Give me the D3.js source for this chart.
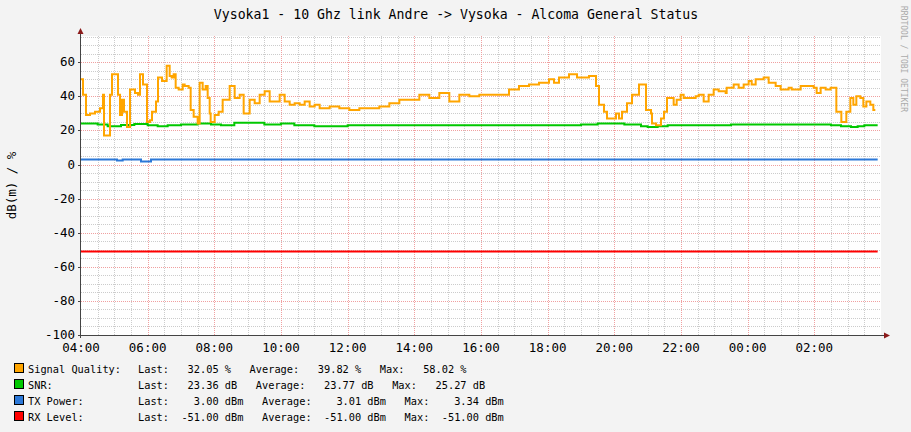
<!DOCTYPE html>
<html><head><meta charset="utf-8">
<script src="https://cdn.jsdelivr.net/npm/d3@7"></script>
<style>body{margin:0;background:#f3f3f3}svg{display:block}</style>
</head><body>
<script>
const title = "Vysoka1 - 10 Ghz link Andre -> Vysoka - Alcoma General Status";
const xTickLabels = ["04:00","06:00","08:00","10:00","12:00","14:00","16:00","18:00","20:00","22:00","00:00","02:00"];
const yTicks = [60,40,20,0,-20,-40,-60,-80,-100];
// hours after 04:00
const sqHours = [0,0.06,0.15,0.27,0.42,0.57,0.66,0.69,0.78,0.87,0.93,1.05,1.11,1.17,1.23,1.29,1.38,1.47,1.62,1.71,1.77,1.86,1.92,1.98,2.07,2.13,2.25,2.31,2.43,2.57,2.66,2.72,2.78,2.84,2.93,3.05,3.11,3.23,3.29,3.38,3.50,3.56,3.65,3.74,3.80,3.86,3.89,4.01,4.13,4.25,4.37,4.46,4.61,4.76,4.88,4.97,5.06,5.21,5.36,5.51,5.66,5.81,5.96,6.11,6.26,6.41,6.56,6.71,6.86,7.01,7.16,7.46,7.75,8.05,8.35,8.65,8.95,9.25,9.55,9.85,10.15,10.45,10.75,11.05,11.35,11.65,11.95,12.25,12.54,12.84,13.14,13.44,13.74,14.04,14.19,14.34,14.49,14.64,14.88,15.09,15.24,15.45,15.54,15.69,15.78,15.93,16.05,16.14,16.23,16.38,16.53,16.74,16.83,16.95,17.10,17.13,17.25,17.40,17.49,17.58,17.72,17.78,17.87,17.99,18.08,18.44,18.53,18.68,18.83,18.98,19.13,19.34,19.37,19.58,19.73,19.88,20.03,20.12,20.24,20.48,20.63,20.84,20.99,21.23,21.32,21.59,21.77,21.98,22.07,22.19,22.34,22.49,22.57,22.66,22.81,22.93,22.96,23.08,23.17,23.26,23.38,23.47,23.56,23.68,23.77,23.83];
const sqValues = [50,41,29,30,31,33,41,17,17,41,53,53,41,29,38,31,22,44,42,41,53,47,47,25,26,31,37,51,49,58,52,51,53,45,44,47,46,45,32,28,24,48,44,46,39,30,25,29,31,38,38,46,39,41,30,30,38,36,41,43,37,37,41,37,35,36,35,37,34,35,33,34,33,32,33,33,34,36,38,38,41,39,42,37,41,40,41,41,41,44,46,47,48,50,48,51,51,53,51,51,52,46,35,31,27,27,30,27,31,36,41,47,47,32,30,24,23,27,31,39,39,35,38,41,39,40,41,37,41,44,43,42,45,47,45,47,49,47,50,51,48,46,44,45,44,46,46,45,42,45,44,45,45,31,25,25,31,39,35,40,39,34,37,35,32,32];
const snrHours = [0,0.5,0.8,1.2,1.6,2.0,2.3,2.6,3.0,3.5,3.9,4.2,4.6,5.0,5.5,6.0,6.4,7.0,8.0,10.0,12.0,13.0,14.0,15.0,15.5,15.8,16.3,16.8,17.0,17.3,17.6,18.5,19.5,21.0,22.5,22.8,23.1,23.3,23.5,23.9];
const snrValues = [24,23.5,22.5,23.2,23.8,23,22.5,23,23.5,24,23.5,23,24.5,24.5,23.5,24,23,22.5,23,23,23,23,23,23.5,24,24,23.5,22.5,22,22.5,23,23,23.5,23.5,23,22.5,22,22.5,23,23];
const txHours = [0,1.08,1.25,1.80,2.10,23.9];
const txValues = [3,2.3,3,1.8,3,3];
const rxHours = [0,23.9];
const rxValues = [-51,-51];
const legendNames = ["Signal Quality:","SNR:","TX Power:","RX Level:"];
const legendColors = ["#ffa500","#00c800","#2c78d8","#ff0000"];
const legendUnits = ["%","dB","dBm","dBm"];
const legendLast = [32.05,23.36,3.00,-51.00];
const legendAvg = [39.82,23.77,3.01,-51.00];
const legendMax = [58.02,25.27,3.34,-51.00];

const W=911,H=432, L=81, R=881, T=36, B=335;
const svg=d3.select("body").append("svg").attr("width",W).attr("height",H);
svg.append("rect").attr("width",W).attr("height",H).attr("fill","#f3f3f3");
svg.append("rect").attr("x",L).attr("y",T).attr("width",R-L).attr("height",B-T).attr("fill","#fff");
const x=d3.scaleLinear().domain([0,24]).range([L,R]);
const y=d3.scaleLinear().domain([-100,75.4]).range([B,T]);
const font="DejaVu Sans Mono, monospace";
const g=svg.append("g");
d3.range(0.5,24,0.5).filter(h=>h%2!==0).forEach(h=>g.append("line").attr("x1",Math.round(x(h))+0.5).attr("x2",Math.round(x(h))+0.5).attr("y1",T).attr("y2",B).attr("stroke","#ccc").attr("stroke-dasharray","1,1"));
d3.range(-95,76,5).filter(v=>v%20!==0).forEach(v=>g.append("line").attr("x1",L).attr("x2",R).attr("y1",Math.round(y(v))+0.5).attr("y2",Math.round(y(v))+0.5).attr("stroke","#ccc").attr("stroke-dasharray","1,1"));
d3.range(2,24,2).forEach(h=>g.append("line").attr("x1",Math.round(x(h))+0.5).attr("x2",Math.round(x(h))+0.5).attr("y1",T).attr("y2",B).attr("stroke","#f0a0a0").attr("stroke-dasharray","1,1"));
yTicks.filter(v=>v>-100).forEach(v=>g.append("line").attr("x1",L).attr("x2",R).attr("y1",Math.round(y(v))+0.5).attr("y2",Math.round(y(v))+0.5).attr("stroke","#f0a0a0").attr("stroke-dasharray","1,1"));
const ax=svg.append("g");
ax.append("line").attr("x1",L-0.5).attr("x2",L-0.5).attr("y1",B+3).attr("y2",T-4).attr("stroke","#444");
ax.append("line").attr("x1",L-3).attr("x2",R+4).attr("y1",B+0.5).attr("y2",B+0.5).attr("stroke","#444");
ax.append("path").attr("d",`M${L-3.5},${T-2}L${L+2.5},${T-2}L${L-0.5},${T-8}Z`).attr("fill","#8b1a1a");
ax.append("path").attr("d",`M${R+3},${B-2.5}L${R+3},${B+3.5}L${R+9},${B+0.5}Z`).attr("fill","#8b1a1a");
yTicks.forEach(v=>{
 ax.append("text").attr("x",L-6).attr("y",y(v)+4).attr("text-anchor","end").attr("font-family",font).attr("font-size",12.5).attr("fill","#000").text(v);
 ax.append("line").attr("x1",L-3).attr("x2",L).attr("y1",Math.round(y(v))+0.5).attr("y2",Math.round(y(v))+0.5).attr("stroke","#444");
});
xTickLabels.forEach((t,i)=>ax.append("text").attr("x",x(i*2)).attr("y",B+17).attr("text-anchor","middle").attr("font-family",font).attr("font-size",12.5).attr("fill","#000").text(t));
svg.append("text").attr("transform",`translate(16,${(T+B)/2}) rotate(-90)`).attr("text-anchor","middle").attr("font-family",font).attr("font-size",12.5).text("dB(m) / %");
svg.append("text").attr("x",W/2+0.5).attr("y",19).attr("text-anchor","middle").attr("font-family",font).attr("font-size",13.2).text(title);
svg.append("text").attr("transform","translate(901,6) rotate(90)").attr("font-family",font).attr("font-size",8).attr("fill","#aaa").text("RRDTOOL / TOBI OETIKER");
const line=d3.line().x(d=>x(d[0])).y(d=>y(d[1])).curve(d3.curveStepAfter);
function draw(h,v,c){svg.append("path").datum(h.map((t,i)=>[t,v[i]])).attr("d",line).attr("fill","none").attr("stroke",c).attr("stroke-width",2);}
draw(rxHours,rxValues,"#ff0000");
draw(txHours,txValues,"#2c78d8");
draw(snrHours,snrValues,"#00c800");
draw(sqHours,sqValues,"#ffa500");
const f=v=>v.toFixed(2).padStart(8);
legendNames.forEach((n,i)=>{
 const yy=373+i*16;
 svg.append("rect").attr("x",14.5).attr("y",yy-9.5).attr("width",9).attr("height",9).attr("fill",legendColors[i]).attr("stroke","#000");
 svg.append("text").attr("x",28).attr("y",yy).attr("font-family",font).attr("font-size",10.3).text(n);
 const u=legendUnits[i];
 svg.append("text").attr("x",138).attr("y",yy).attr("font-family",font).attr("font-size",10.3).style("white-space","pre")
  .text(`Last:${f(legendLast[i])} ${u}   Average:${f(legendAvg[i])} ${u}   Max:${f(legendMax[i])} ${u}`);
});
</script>
</body></html>
